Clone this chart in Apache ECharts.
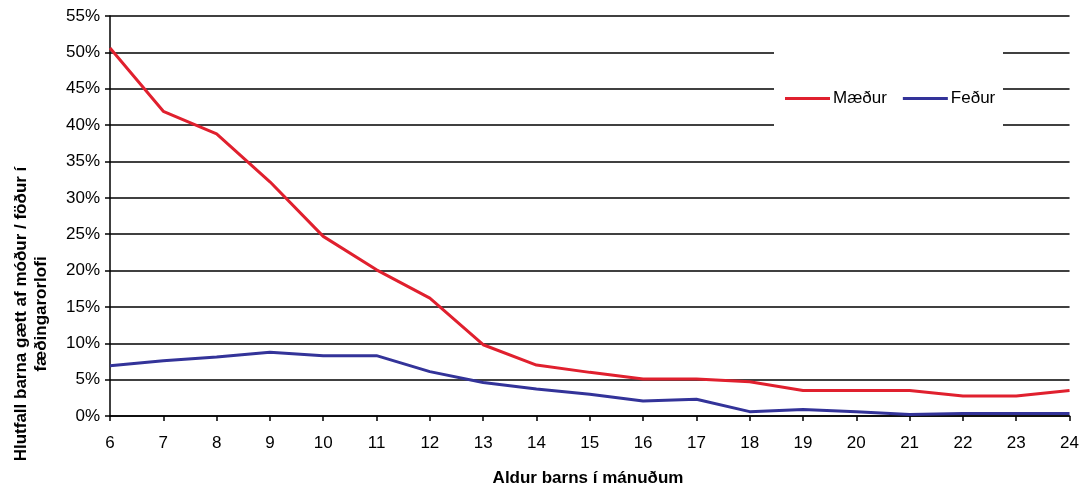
<!DOCTYPE html>
<html>
<head>
<meta charset="utf-8">
<script src="https://cdn.jsdelivr.net/npm/echarts@6/dist/echarts.min.js"></script>
<style>html,body{margin:0;padding:0;background:#fff}#c{width:1082px;height:486px}</style>
</head>
<body>
<div id="c"></div>
<script>
var categories = ['6','7','8','9','10','11','12','13','14','15','16','17','18','19','20','21','22','23','24'];
var maedur = [50.6, 41.9, 38.8, 32.2, 24.7, 20.1, 16.2, 9.8, 7.0, 6.0, 5.1, 5.1, 4.7, 3.5, 3.5, 3.5, 2.75, 2.75, 3.5];
var fedur  = [6.9, 7.6, 8.1, 8.75, 8.3, 8.3, 6.1, 4.6, 3.7, 3.0, 2.05, 2.3, 0.6, 0.9, 0.6, 0.2, 0.35, 0.35, 0.35];
var seriesNames = ['Mæður', 'Feður'];
var yTitle = 'Hlutfall barna gætt af móður / föður í\nfæðingarorlofi';
var xTitle = 'Aldur barns í mánuðum';

var font = 'Liberation Sans, Arial, sans-serif';
var chart = echarts.init(document.getElementById('c'), null, {renderer: 'canvas'});
chart.setOption({
  animation: false,
  backgroundColor: '#fff',
  grid: {left: 110, right: 9, top: 16, bottom: 70, containLabel: false},
  xAxis: {
    type: 'category', data: categories, boundaryGap: false,
    axisLine: {lineStyle: {color: '#000', width: 1.5}},
    axisTick: {show: true, length: 5, lineStyle: {color: '#000', width: 1.5}},
    axisLabel: {color: '#000', fontFamily: font, fontSize: 17, margin: 19},
    splitLine: {show: false}
  },
  yAxis: {
    type: 'value', min: 0, max: 55, interval: 5,
    axisLine: {show: true, lineStyle: {color: '#000', width: 1.5}},
    axisTick: {show: true, length: 5, lineStyle: {color: '#000', width: 1.5}},
    axisLabel: {color: '#000', fontFamily: font, fontSize: 17, margin: 10, formatter: '{value}%'},
    splitLine: {show: true, lineStyle: {color: '#000', width: 1.5}}
  },
  legend: {
    data: seriesNames, left: 785, top: 90, z: 200, padding: 0,
    icon: 'rect', itemWidth: 45, itemHeight: 3, itemGap: 16,
    textStyle: {color: '#000', fontFamily: font, fontSize: 17, padding: [0, 0, 0, -2]}
  },
  graphic: [
    {type: 'rect', z: 100, shape: {x: 774, y: 40, width: 229, height: 105}, style: {fill: '#fff'}},
    {type: 'text', z: 100, x: 31, y: 314, rotation: Math.PI / 2,
     style: {text: yTitle, fill: '#000', font: 'bold 17px ' + font, textAlign: 'center', textVerticalAlign: 'middle', lineHeight: 20}},
    {type: 'text', z: 100, x: 588, y: 478,
     style: {text: xTitle, fill: '#000', font: 'bold 17px ' + font, textAlign: 'center', textVerticalAlign: 'middle'}}
  ],
  series: [
    {name: seriesNames[0], type: 'line', data: maedur, showSymbol: false, symbol: 'none',
     lineStyle: {color: '#e0202e', width: 3}, itemStyle: {color: '#e0202e'}, z: 5},
    {name: seriesNames[1], type: 'line', data: fedur, showSymbol: false, symbol: 'none',
     lineStyle: {color: '#333399', width: 3}, itemStyle: {color: '#333399'}, z: 4}
  ]
});
</script>
</body>
</html>
